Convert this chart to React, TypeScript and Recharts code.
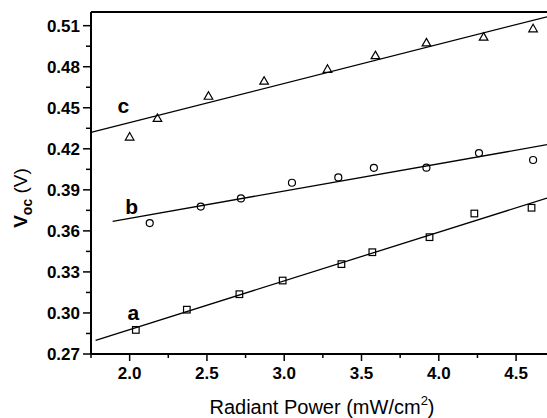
import {
  ScatterChart,
  Scatter,
  XAxis,
  YAxis,
  ReferenceLine,
  ReferenceDot,
} from 'recharts';

// sample a (squares)
const xA = [2.04, 2.37, 2.71, 2.99, 3.37, 3.57, 3.94, 4.23, 4.6];
const yA = [0.2876, 0.3024, 0.3137, 0.3237, 0.3357, 0.3444, 0.3554, 0.3727, 0.3769];
// sample b (circles)
const xB = [2.13, 2.46, 2.72, 3.05, 3.35, 3.58, 3.92, 4.26, 4.61];
const yB = [0.3657, 0.3778, 0.3837, 0.3952, 0.3991, 0.4061, 0.4062, 0.4169, 0.4118];
// sample c (triangles)
const xC = [2.0, 2.18, 2.51, 2.87, 3.28, 3.59, 3.92, 4.29, 4.61];
const yC = [0.4286, 0.4422, 0.4584, 0.4694, 0.4781, 0.4881, 0.4974, 0.5016, 0.5077];

// linear fits, end points
const fitA = [{ x: 1.78, y: 0.28 }, { x: 4.7, y: 0.384 }];
const fitB = [{ x: 1.89, y: 0.367 }, { x: 4.7, y: 0.423 }];
const fitC = [{ x: 1.75, y: 0.432 }, { x: 4.7, y: 0.5165 }];

// curve labels (text baseline positions)
const curveLabels = [
  { name: 'a', x: 2.024, y: 0.2949 },
  { name: 'b', x: 2.013, y: 0.3723 },
  { name: 'c', x: 1.959, y: 0.4464 },
];

const xMajor = [2.0, 2.5, 3.0, 3.5, 4.0, 4.5];
const xMinor = [1.75, 2.25, 2.75, 3.25, 3.75, 4.25];
const yMajor = [0.27, 0.3, 0.33, 0.36, 0.39, 0.42, 0.45, 0.48, 0.51];
const yMinor = [0.285, 0.315, 0.345, 0.375, 0.405, 0.435, 0.465, 0.495];

const toPts = (xs: number[], ys: number[]) => xs.map((x, i) => ({ x, y: ys[i] }));
const dataA = toPts(xA, yA);
const dataB = toPts(xB, yB);
const dataC = toPts(xC, yC);

const FONT = '"Liberation Sans", Arial, sans-serif';

const isIn = (arr: number[], v: number) => arr.some((m) => Math.abs(m - v) < 1e-6);

const XTick = (props: any) => {
  const { x, y, payload } = props;
  const major = isIn(xMajor, payload.value);
  return (
    <g>
      <line x1={x} x2={x} y1={y} y2={y + (major ? 7 : 4)} stroke="#000" strokeWidth={1.5} />
      {major && (
        <text x={x} y={y + 25} textAnchor="middle" fontSize={17} fontWeight="bold" fontFamily={FONT} fill="#000">
          {payload.value.toFixed(1)}
        </text>
      )}
    </g>
  );
};

const YTick = (props: any) => {
  const { x, y, payload } = props;
  const major = isIn(yMajor, payload.value);
  return (
    <g>
      <line x1={x} x2={x - (major ? 8 : 5)} y1={y} y2={y} stroke="#000" strokeWidth={1.5} />
      {major && (
        <text x={x - 11} y={y + 6} textAnchor="end" fontSize={17} fontWeight="bold" fontFamily={FONT} fill="#000">
          {payload.value.toFixed(2)}
        </text>
      )}
    </g>
  );
};

const Square = (p: any) => (
  <rect x={p.cx - 3.3} y={p.cy - 3.3} width={6.6} height={6.6} fill="none" stroke="#000" strokeWidth={1.2} />
);
const Circle = (p: any) => <circle cx={p.cx} cy={p.cy} r={3.5} fill="none" stroke="#000" strokeWidth={1.2} />;
const Triangle = (p: any) => (
  <path
    d={`M${p.cx},${p.cy - 4.5} L${p.cx + 4.3},${p.cy + 3} L${p.cx - 4.3},${p.cy + 3} Z`}
    fill="none"
    stroke="#000"
    strokeWidth={1.2}
  />
);

export default function App() {
  return (
    <div style={{ position: 'absolute', left: 0, top: 0, width: 547, height: 418, background: '#fff' }}>
      <ScatterChart width={547} height={418} margin={{ top: 12, right: 0, left: 0, bottom: 0 }}>
        <XAxis
          type="number"
          dataKey="x"
          domain={[1.75, 4.7]}
          allowDataOverflow
          ticks={[...xMinor, ...xMajor].sort((a, b) => a - b)}
          tick={<XTick />}
          tickSize={0}
          tickMargin={0}
          tickLine={false}
          interval={0}
          height={64}
          axisLine={{ stroke: '#000', strokeWidth: 2 }}
          label={{
            content: () => (
              <text x={322} y={414} textAnchor="middle" fontSize={20} fontFamily={FONT} fill="#000">
                Radiant Power (mW/cm
                <tspan dy={-9} fontSize={13}>2</tspan>
                <tspan dy={9}>)</tspan>
              </text>
            ),
          }}
        />
        <YAxis
          type="number"
          dataKey="y"
          domain={[0.27, 0.52]}
          allowDataOverflow
          ticks={[...yMinor, ...yMajor].sort((a, b) => a - b)}
          tick={<YTick />}
          tickSize={0}
          tickMargin={0}
          tickLine={false}
          interval={0}
          width={91}
          axisLine={{ stroke: '#000', strokeWidth: 2 }}
          label={{
            content: () => (
              <text
                x={27}
                y={198}
                transform="rotate(-90, 27, 198)"
                textAnchor="middle"
                fontSize={19}
                fontFamily={FONT}
                fill="#000"
              >
                <tspan fontWeight="bold">V</tspan>
                <tspan fontSize={14} dy={5} fontWeight="bold">oc</tspan>
                <tspan dy={-5}> (V)</tspan>
              </text>
            ),
          }}
        />
        <ReferenceLine y={0.52} stroke="#000" strokeWidth={2} ifOverflow="extendDomain" />
        <ReferenceLine segment={fitA} stroke="#000" strokeWidth={1.3} />
        <ReferenceLine segment={fitB} stroke="#000" strokeWidth={1.3} />
        <ReferenceLine segment={fitC} stroke="#000" strokeWidth={1.3} />
        <Scatter data={dataA} shape={<Square />} isAnimationActive={false} />
        <Scatter data={dataB} shape={<Circle />} isAnimationActive={false} />
        <Scatter data={dataC} shape={<Triangle />} isAnimationActive={false} />
        {curveLabels.map((l) => (
          <ReferenceDot
            key={l.name}
            x={l.x}
            y={l.y}
            r={0}
            shape={(p: any) => (
              <text x={p.cx} y={p.cy} textAnchor="middle" fontSize={21} fontWeight="bold" fontFamily={FONT} fill="#000">
                {l.name}
              </text>
            )}
          />
        ))}
      </ScatterChart>
    </div>
  );
}
